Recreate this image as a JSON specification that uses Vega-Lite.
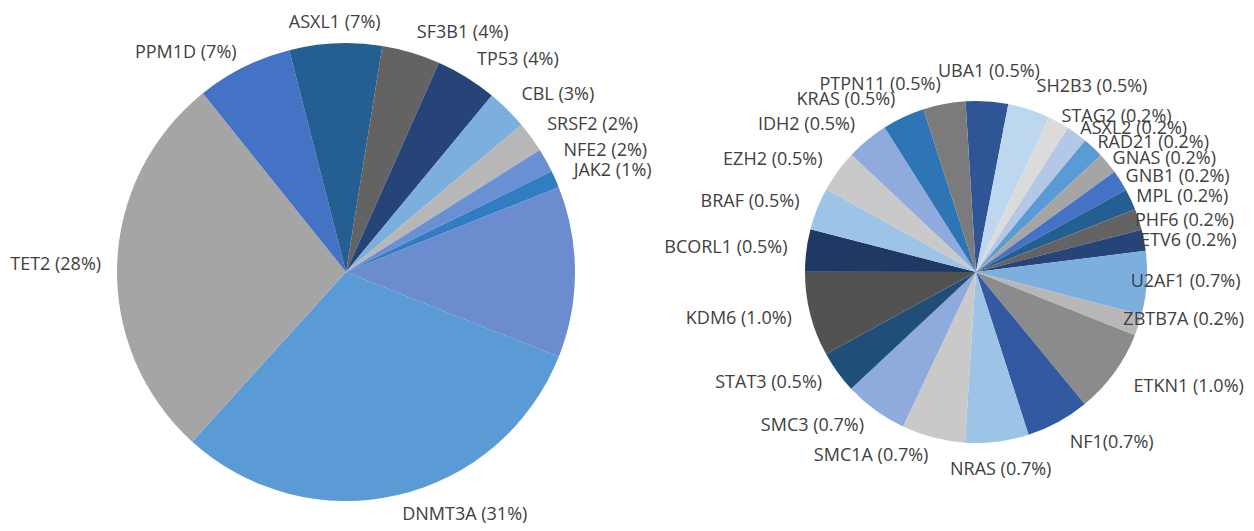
{
  "$schema": "https://vega.github.io/schema/vega-lite/v6.json",
  "autosize": "none",
  "width": 1254,
  "height": 518,
  "padding": {"top": 13, "left": 0, "right": 0, "bottom": 0},
  "background": "white",
  "config": {"view": {"stroke": null}, "text": {"font": "Open Sans", "fontSize": 18, "fill": "#404040", "baseline": "middle"}},
  "datasets": {
    "main": [
      {"pie": "main", "gene": "DNMT3A", "n": 127, "label": "DNMT3A (31%)"},
      {"pie": "main", "gene": "TET2", "n": 114, "label": "TET2 (28%)"},
      {"pie": "main", "gene": "PPM1D", "n": 28, "label": "PPM1D (7%)"},
      {"pie": "main", "gene": "ASXL1", "n": 27, "label": "ASXL1 (7%)"},
      {"pie": "main", "gene": "SF3B1", "n": 17, "label": "SF3B1 (4%)"},
      {"pie": "main", "gene": "TP53", "n": 18, "label": "TP53 (4%)"},
      {"pie": "main", "gene": "CBL", "n": 12, "label": "CBL (3%)"},
      {"pie": "main", "gene": "SRSF2", "n": 9, "label": "SRSF2 (2%)"},
      {"pie": "main", "gene": "NFE2", "n": 7, "label": "NFE2 (2%)"},
      {"pie": "main", "gene": "JAK2", "n": 5, "label": "JAK2 (1%)"},
      {"pie": "main", "gene": "Other", "n": 50, "label": ""}
    ],
    "detail": [
      {"pie": "detail", "gene": "UBA1", "n": 2, "label": "UBA1 (0.5%)"},
      {"pie": "detail", "gene": "SH2B3", "n": 2, "label": "SH2B3 (0.5%)"},
      {"pie": "detail", "gene": "STAG2", "n": 1, "label": "STAG2 (0.2%)"},
      {"pie": "detail", "gene": "ASXL2", "n": 1, "label": "ASXL2 (0.2%)"},
      {"pie": "detail", "gene": "RAD21", "n": 1, "label": "RAD21 (0.2%)"},
      {"pie": "detail", "gene": "GNAS", "n": 1, "label": "GNAS (0.2%)"},
      {"pie": "detail", "gene": "GNB1", "n": 1, "label": "GNB1 (0.2%)"},
      {"pie": "detail", "gene": "MPL", "n": 1, "label": "MPL (0.2%)"},
      {"pie": "detail", "gene": "PHF6", "n": 1, "label": "PHF6 (0.2%)"},
      {"pie": "detail", "gene": "ETV6", "n": 1, "label": "ETV6 (0.2%)"},
      {"pie": "detail", "gene": "U2AF1", "n": 3, "label": "U2AF1 (0.7%)"},
      {"pie": "detail", "gene": "ZBTB7A", "n": 1, "label": "ZBTB7A (0.2%)"},
      {"pie": "detail", "gene": "ETKN1", "n": 4, "label": "ETKN1 (1.0%)"},
      {"pie": "detail", "gene": "NF1", "n": 3, "label": "NF1(0.7%)"},
      {"pie": "detail", "gene": "NRAS", "n": 3, "label": "NRAS (0.7%)"},
      {"pie": "detail", "gene": "SMC1A", "n": 3, "label": "SMC1A (0.7%)"},
      {"pie": "detail", "gene": "SMC3", "n": 3, "label": "SMC3 (0.7%)"},
      {"pie": "detail", "gene": "STAT3", "n": 2, "label": "STAT3 (0.5%)"},
      {"pie": "detail", "gene": "KDM6", "n": 4, "label": "KDM6 (1.0%)"},
      {"pie": "detail", "gene": "BCORL1", "n": 2, "label": "BCORL1 (0.5%)"},
      {"pie": "detail", "gene": "BRAF", "n": 2, "label": "BRAF (0.5%)"},
      {"pie": "detail", "gene": "EZH2", "n": 2, "label": "EZH2 (0.5%)"},
      {"pie": "detail", "gene": "IDH2", "n": 2, "label": "IDH2 (0.5%)"},
      {"pie": "detail", "gene": "KRAS", "n": 2, "label": "KRAS (0.5%)"},
      {"pie": "detail", "gene": "PTPN11", "n": 2, "label": "PTPN11 (0.5%)"}
    ]
  },
  "resolve": {"scale": {"theta": "independent"}},
  "layer": [
    {
      "data": {"name": "main"},
      "transform": [{"window": [{"op": "row_number", "as": "i"}]}],
      "encoding": {
        "x": {"field": "pie", "type": "nominal", "scale": {"type": "point", "domain": ["main", "detail"], "range": [346, 976], "padding": 0}, "axis": null},
        "theta": {"field": "n", "type": "quantitative", "stack": true, "scale": {"range": [1.95023, 8.23342]}},
        "order": {"field": "i", "type": "quantitative"}
      },
      "layer": [
        {
          "mark": {"type": "arc", "outerRadius": 229},
          "encoding": {
            "color": {"field": "gene", "type": "nominal", "legend": null,
              "scale": {
                "domain": ["DNMT3A","TET2","PPM1D","ASXL1","SF3B1","TP53","CBL","SRSF2","NFE2","JAK2","Other","UBA1","SH2B3","STAG2","ASXL2","RAD21","GNAS","GNB1","MPL","PHF6","ETV6","U2AF1","ZBTB7A","ETKN1","NF1","NRAS","SMC1A","SMC3","STAT3","KDM6","BCORL1","BRAF","EZH2","IDH2","KRAS","PTPN11"],
                "range": ["#5B9BD5","#A5A5A5","#4472C4","#255E91","#636363","#264478","#7CAFDD","#B7B7B7","#6A90D4","#327DC2","#6B8CCF","#2F5597","#BDD7EE","#DBDBDB","#B4C7E7","#5B9BD5","#A5A5A5","#4472C4","#255E91","#636363","#264478","#7CAFDD","#B7B7B7","#8B8B8B","#335AA1","#9DC3E6","#C9C9C9","#8FAADC","#1F4E79","#525252","#203864","#9DC3E6","#C9C9C9","#8FAADC","#2E75B6","#7B7B7B"]
              }
            }
          }
        },
        {
          "mark": {"type": "text", "radius": 249, "align": "left"},
          "encoding": {"text": {"condition": {"test": "indexof(['DNMT3A','SF3B1','TP53','CBL','SRSF2','NFE2','JAK2'], datum.gene) >= 0", "field": "label"}, "value": ""}}
        },
        {
          "mark": {"type": "text", "radius": 249, "align": "center"},
          "encoding": {"text": {"condition": {"test": "indexof(['ASXL1'], datum.gene) >= 0", "field": "label"}, "value": ""}}
        },
        {
          "mark": {"type": "text", "radius": 245, "align": "right"},
          "encoding": {"text": {"condition": {"test": "indexof(['TET2','PPM1D'], datum.gene) >= 0", "field": "label"}, "value": ""}}
        }
      ]
    },
    {
      "data": {"name": "detail"},
      "transform": [{"window": [{"op": "row_number", "as": "i"}]}],
      "encoding": {
        "x": {"field": "pie", "type": "nominal", "scale": {"type": "point", "domain": ["main", "detail"], "range": [346, 976], "padding": 0}, "axis": null},
        "theta": {"field": "n", "type": "quantitative", "stack": true, "scale": {"range": [-0.06109, 6.2221]}},
        "order": {"field": "i", "type": "quantitative"}
      },
      "layer": [
        {
          "mark": {"type": "arc", "outerRadius": 171},
          "encoding": {"color": {"field": "gene", "type": "nominal", "legend": null}}
        },
        {
          "mark": {"type": "text", "radius": 190, "align": "right"},
          "encoding": {"text": {"condition": {"test": "indexof(['PTPN11','KRAS','IDH2','EZH2','BRAF','BCORL1','KDM6','STAT3','SMC3','SMC1A'], datum.gene) >= 0", "field": "label"}, "value": ""}}
        },
        {
          "mark": {"type": "text", "radius": 200, "align": "center"},
          "encoding": {"text": {"condition": {"test": "indexof(['UBA1','NRAS'], datum.gene) >= 0", "field": "label"}, "value": ""}}
        },
        {
          "mark": {"type": "text", "radius": 195, "align": "left"},
          "encoding": {"text": {"condition": {"test": "indexof(['SH2B3','ETKN1','NF1'], datum.gene) >= 0", "field": "label"}, "value": ""}}
        },
        {
          "mark": {"type": "text", "radius": 177, "align": "left"},
          "encoding": {"text": {"condition": {"test": "indexof(['STAG2','ASXL2','RAD21','GNAS','GNB1','MPL'], datum.gene) >= 0", "field": "label"}, "value": ""}}
        },
        {
          "mark": {"type": "text", "radius": 167, "align": "left"},
          "encoding": {"text": {"condition": {"test": "indexof(['PHF6','ETV6'], datum.gene) >= 0", "field": "label"}, "value": ""}}
        },
        {
          "mark": {"type": "text", "radius": 155, "align": "left"},
          "encoding": {"text": {"condition": {"test": "indexof(['U2AF1','ZBTB7A'], datum.gene) >= 0", "field": "label"}, "value": ""}}
        }
      ]
    }
  ]
}
